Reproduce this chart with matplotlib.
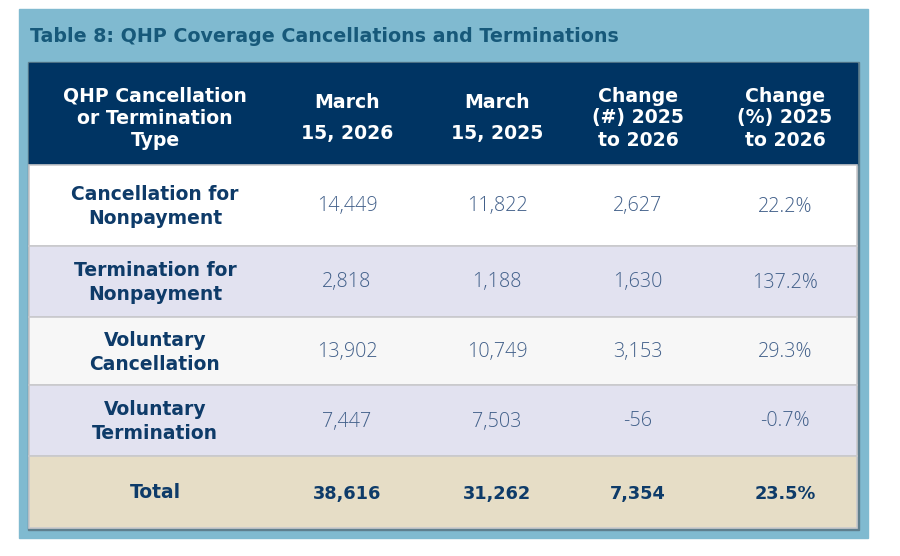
import matplotlib
matplotlib.use("Agg")
import matplotlib.pyplot as plt
from matplotlib.patches import Rectangle

title = "Table 8: QHP Coverage Cancellations and Terminations"
headers = ["QHP Cancellation\nor Termination\nType", "March\n15, 2026", "March\n15, 2025",
           "Change\n(#) 2025\nto 2026", "Change\n(%) 2025\nto 2026"]
row_labels = ["Cancellation for\nNonpayment", "Termination for\nNonpayment",
              "Voluntary\nCancellation", "Voluntary\nTermination", "Total"]
mar_2026 = [14449, 2818, 13902, 7447, 38616]
mar_2025 = [11822, 1188, 10749, 7503, 31262]
change_num = [2627, 1630, 3153, -56, 7354]
change_pct = [22.2, 137.2, 29.3, -0.7, 23.5]

panel_color = "#80bad0"
header_color = "#003463"
label_color = "#0e3b69"
value_color = "#42608a"
row_colors = ["#ffffff", "#e2e2f0", "#f7f7f7", "#e2e2f0", "#e6ddc6"]

bold_font = ["DejaVu Sans"]
light_font = ["Open Sans", "DejaVu Sans"]


def lines_text(ax, x, yc, text, gap, **kw):
    # place each line on its own so the line gap can be set in pixels
    parts = text.split("\n")
    n = len(parts)
    for k, p in enumerate(parts):
        ax.text(x, yc + (k - (n - 1) / 2) * gap, p, ha="center", va="center", **kw)


fig = plt.figure(figsize=(9, 5.56), dpi=100)
ax = fig.add_axes([0, 0, 1, 1])
ax.set_xlim(0, 900)
ax.set_ylim(556, 0)
ax.axis("off")

# outer panel
ax.add_patch(Rectangle((19, 9), 849, 529, color=panel_color, zorder=0))
ax.text(30, 37, title, color="#17597a", fontsize=13.7, fontweight="bold",
        family=bold_font, va="center", ha="left")

left, right = 29, 857
col_centers = [155, 347, 497, 638, 785]
row_edges = [63, 165, 246, 317, 385, 456, 528]

ax.add_patch(Rectangle((left - 1, row_edges[0] - 1), right - left + 3, row_edges[-1] - row_edges[0] + 3,
                       color="#5f7f8e", zorder=1))
ax.add_patch(Rectangle((left, row_edges[0]), right - left, row_edges[1] - row_edges[0],
                       color=header_color, zorder=2))
for c, h in zip(col_centers, headers):
    gap = 22 if h.count("\n") == 2 else 30
    lines_text(ax, c, 118, h, gap, color="white", fontsize=13.6, fontweight="bold",
               family=bold_font, zorder=3)

for i, lab in enumerate(row_labels):
    y0, y1 = row_edges[i + 1], row_edges[i + 2]
    ax.add_patch(Rectangle((left, y0), right - left, y1 - y0, facecolor=row_colors[i],
                           edgecolor="#c9c9cc", linewidth=1.2, zorder=2))
    yc = (y0 + y1) / 2
    total = lab == "Total"
    lines_text(ax, col_centers[0], yc + 1, lab, 24, color=label_color, fontsize=13.5,
               fontweight="bold", family=bold_font, zorder=3)
    vals = [f"{mar_2026[i]:,}", f"{mar_2025[i]:,}", f"{change_num[i]:,}", f"{change_pct[i]:.1f}%"]
    for c, v in zip(col_centers[1:], vals):
        if total:
            ax.text(c, yc + 2, v, color=label_color, fontsize=12.8, fontweight="bold",
                    family=bold_font, ha="center", va="center", zorder=3)
        else:
            ax.text(c, yc + 1, v, color=value_color, fontsize=14.2, fontweight="light",
                    family=light_font, ha="center", va="center", zorder=3)

fig.savefig("out.png", dpi=100)
